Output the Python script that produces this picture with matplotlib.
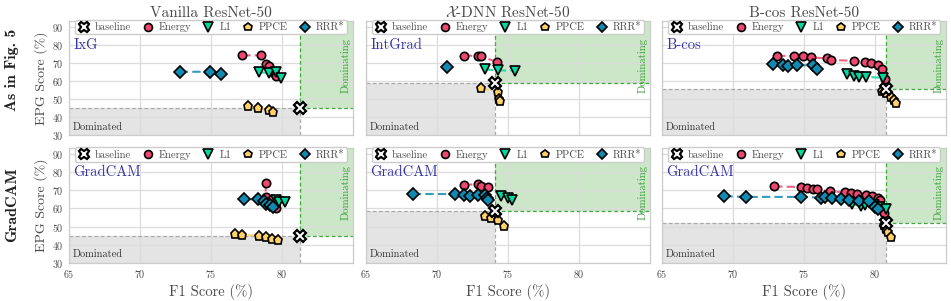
import matplotlib
matplotlib.use("Agg")
import matplotlib.pyplot as plt
from matplotlib.lines import Line2D
from matplotlib.patches import Rectangle

plt.rcParams["font.family"] = ["cmr10", "DejaVu Serif"]
plt.rcParams["mathtext.fontset"] = "cm"
plt.rcParams["axes.unicode_minus"] = False
plt.rcParams["axes.formatter.use_mathtext"] = True

# ---------------- data ----------------
column_titles = ["Vanilla ResNet-50", r"$\mathcal{X}$-DNN ResNet-50", "B-cos ResNet-50"]
row_titles = ["As in Fig. 5", "GradCAM"]
attr_row0 = ["IxG", "IntGrad", "B-cos"]
attr_row1 = ["GradCAM", "GradCAM", "GradCAM"]
method_names = ["Energy", "L1", "PPCE", "RRR*"]
x_ticks = [65, 70, 75, 80]
y_ticks = [30, 40, 50, 60, 70, 80, 90]

baseline_f1_row0 = [81.3, 74.1, 80.8]
baseline_epg_row0 = [45.0, 58.8, 55.5]
baseline_f1_row1 = [81.3, 74.1, 80.8]
baseline_epg_row1 = [45.0, 58.6, 52.2]

# Vanilla ResNet-50, IxG
van_ixg_energy_f1 = [77.2, 78.5, 78.9, 79.1, 79.2, 79.5, 79.6]
van_ixg_energy_epg = [74.3, 74.3, 69.5, 68.5, 65.5, 64.0, 63.0]
van_ixg_l1_f1 = [78.4, 79.1, 79.6, 79.9]
van_ixg_l1_epg = [65.0, 64.5, 65.0, 62.0]
van_ixg_ppce_f1 = [77.6, 78.3, 79.1, 79.4]
van_ixg_ppce_epg = [46.0, 45.0, 44.0, 43.0]
van_ixg_rrr_f1 = [72.8, 74.9, 75.7]
van_ixg_rrr_epg = [65.2, 65.2, 64.0]

# Vanilla ResNet-50, GradCAM
van_gc_energy_f1 = [78.85, 78.85, 79.3, 79.5, 79.6]
van_gc_energy_epg = [74.0, 66.5, 65.5, 62.0, 60.2]
van_gc_l1_f1 = [79.6, 79.8, 80.2]
van_gc_l1_epg = [64.5, 63.5, 63.5]
van_gc_ppce_f1 = [76.7, 77.2, 78.4, 78.9, 79.3, 79.7]
van_gc_ppce_epg = [46.0, 45.4, 44.9, 44.0, 43.3, 42.3]
van_gc_rrr_f1 = [77.3, 78.3, 78.7, 78.9, 79.15, 79.4]
van_gc_rrr_epg = [65.2, 65.0, 64.0, 62.6, 61.7, 61.0]

# X-DNN ResNet-50, IntGrad
xdnn_ig_energy_f1 = [71.9, 72.9, 73.1, 74.25]
xdnn_ig_energy_epg = [74.2, 74.0, 73.8, 70.5]
xdnn_ig_l1_f1 = [73.4, 74.3, 75.5]
xdnn_ig_l1_epg = [66.5, 66.0, 65.8]
xdnn_ig_ppce_f1 = [73.1, 74.3, 74.4, 74.45]
xdnn_ig_ppce_epg = [56.0, 54.0, 50.0, 49.0]
xdnn_ig_rrr_f1 = [70.7]
xdnn_ig_rrr_epg = [67.6]

# X-DNN ResNet-50, GradCAM
xdnn_gc_energy_f1 = [71.9, 72.9, 73.1, 73.6]
xdnn_gc_energy_epg = [73.2, 73.3, 72.4, 71.7]
xdnn_gc_l1_f1 = [74.5, 75.0, 75.3]
xdnn_gc_l1_epg = [67.0, 65.7, 64.5]
xdnn_gc_ppce_f1 = [73.4, 73.8, 74.3, 74.7]
xdnn_gc_ppce_epg = [55.7, 54.6, 53.5, 50.4]
xdnn_gc_rrr_f1 = [68.3, 71.3, 71.9, 72.3, 72.9, 73.4, 73.55, 73.6]
xdnn_gc_rrr_epg = [68.0, 68.0, 67.4, 67.0, 67.4, 67.2, 66.0, 64.5]

# B-cos ResNet-50, B-cos
bcos_bc_energy_f1 = [73.1, 74.3, 74.9, 75.5, 76.6, 76.9, 78.5, 79.3, 79.7, 80.2, 80.5, 80.7]
bcos_bc_energy_epg = [74.0, 74.0, 73.9, 73.2, 72.6, 71.7, 71.3, 70.6, 69.8, 68.9, 66.5, 61.0]
bcos_bc_l1_f1 = [78.0, 78.5, 78.9, 79.35, 80.55]
bcos_bc_l1_epg = [63.7, 62.9, 62.4, 62.4, 61.8]
bcos_bc_ppce_f1 = [80.5, 80.8, 81.1, 81.35, 81.5]
bcos_bc_ppce_epg = [54.6, 53.2, 51.3, 49.8, 48.0]
bcos_bc_rrr_f1 = [72.8, 73.5, 73.9, 74.5, 75.6, 75.9]
bcos_bc_rrr_epg = [69.5, 68.8, 68.3, 68.8, 68.8, 67.0]

# B-cos ResNet-50, GradCAM
bcos_gc_energy_f1 = [72.9, 74.8, 75.2, 75.6, 75.9, 76.8, 77.9, 78.3, 78.7, 79.4, 79.8, 80.2, 80.35, 80.6]
bcos_gc_energy_epg = [72.2, 71.9, 71.3, 71.0, 70.6, 69.5, 69.0, 68.5, 68.1, 67.4, 66.7, 65.8, 64.8, 57.5]
bcos_gc_l1_f1 = [78.4, 79.0, 79.3, 79.9, 80.3, 80.8]
bcos_gc_l1_epg = [62.2, 61.5, 61.7, 61.7, 61.0, 59.8]
bcos_gc_ppce_f1 = [80.6, 80.75, 80.95, 81.1]
bcos_gc_ppce_epg = [50.6, 48.7, 46.8, 44.4]
bcos_gc_rrr_f1 = [69.4, 70.9, 74.8, 76.2, 76.45, 77.0, 77.6, 78.2, 78.9, 79.6, 80.0, 80.2]
bcos_gc_rrr_epg = [66.8, 66.4, 66.4, 66.0, 66.3, 65.6, 65.2, 64.9, 63.9, 64.2, 61.0, 59.5]

# ---------------- styles ----------------
method_colors = ["#ef476f", "#06d6a0", "#ffd166", "#118ab2"]
method_markers = ["o", "v", "p", "D"]
method_ms = [6.0, 7.0, 6.5, 5.8]
XLIM = (65, 85)
YLIM = (30, 93.5)

panels = [
    [  # row 0
        [(van_ixg_energy_f1, van_ixg_energy_epg), (van_ixg_l1_f1, van_ixg_l1_epg),
         (van_ixg_ppce_f1, van_ixg_ppce_epg), (van_ixg_rrr_f1, van_ixg_rrr_epg)],
        [(xdnn_ig_energy_f1, xdnn_ig_energy_epg), (xdnn_ig_l1_f1, xdnn_ig_l1_epg),
         (xdnn_ig_ppce_f1, xdnn_ig_ppce_epg), (xdnn_ig_rrr_f1, xdnn_ig_rrr_epg)],
        [(bcos_bc_energy_f1, bcos_bc_energy_epg), (bcos_bc_l1_f1, bcos_bc_l1_epg),
         (bcos_bc_ppce_f1, bcos_bc_ppce_epg), (bcos_bc_rrr_f1, bcos_bc_rrr_epg)],
    ],
    [  # row 1
        [(van_gc_energy_f1, van_gc_energy_epg), (van_gc_l1_f1, van_gc_l1_epg),
         (van_gc_ppce_f1, van_gc_ppce_epg), (van_gc_rrr_f1, van_gc_rrr_epg)],
        [(xdnn_gc_energy_f1, xdnn_gc_energy_epg), (xdnn_gc_l1_f1, xdnn_gc_l1_epg),
         (xdnn_gc_ppce_f1, xdnn_gc_ppce_epg), (xdnn_gc_rrr_f1, xdnn_gc_rrr_epg)],
        [(bcos_gc_energy_f1, bcos_gc_energy_epg), (bcos_gc_l1_f1, bcos_gc_l1_epg),
         (bcos_gc_ppce_f1, bcos_gc_ppce_epg), (bcos_gc_rrr_f1, bcos_gc_rrr_epg)],
    ],
]
baselines = [list(zip(baseline_f1_row0, baseline_epg_row0)),
             list(zip(baseline_f1_row1, baseline_epg_row1))]
attr_names = [attr_row0, attr_row1]

W, H = 951, 301
fig = plt.figure(figsize=(W / 100, H / 100), dpi=100)

col_left = [69, 366, 662]
col_w = 284
row_top = [20.7, 148.0]
row_h = 114.6

text_grey = "#4a4a4a"

for r in range(2):
    for c in range(3):
        rect = [col_left[c] / W, 1 - (row_top[r] + row_h) / H, col_w / W, row_h / H]
        ax = fig.add_axes(rect)
        ax.set_xlim(*XLIM)
        ax.set_ylim(*YLIM)
        ax.set_xticks(x_ticks)
        ax.set_yticks(y_ticks)
        ax.set_axisbelow(True)
        ax.grid(True, color="#dcdcdc", lw=0.9)
        for s in ax.spines.values():
            s.set_color("#cccccc")
            s.set_linewidth(0.9)
        ax.tick_params(length=0, labelsize=7.2, colors="#4a4a4a", pad=4)
        if c > 0:
            ax.set_yticklabels([])
        if r == 0:
            ax.set_xticklabels([])
            ax.set_title(column_titles[c], fontsize=11, pad=3, color=text_grey)
        else:
            ax.set_xlabel("F1 Score (%)", fontsize=10.5, color=text_grey, labelpad=3)
        if c == 0:
            ax.set_ylabel("EPG Score (%)", fontsize=10, color=text_grey, labelpad=3)

        bx, by = baselines[r][c]
        # dominated region
        ax.add_patch(Rectangle((XLIM[0], YLIM[0]), bx - XLIM[0], by - YLIM[0],
                               facecolor="#e4e4e4", edgecolor="none", zorder=0.3))
        ax.plot([XLIM[0], bx], [by, by], color="#a8a8a8", lw=0.9, ls=(0, (3, 2)), zorder=1)
        ax.plot([bx, bx], [YLIM[0], by], color="#a8a8a8", lw=0.9, ls=(0, (3, 2)), zorder=1)
        # dominating region
        ax.add_patch(Rectangle((bx, by), XLIM[1] - bx, YLIM[1] - by,
                               facecolor="#cce6c8", edgecolor="none", zorder=0.3))
        ax.plot([bx, XLIM[1]], [by, by], color="#3cab3c", lw=0.9, ls=(0, (3, 2)), zorder=1)
        ax.plot([bx, bx], [by, YLIM[1]], color="#3cab3c", lw=0.9, ls=(0, (3, 2)), zorder=1)

        ax.text(0.012, 0.03, "Dominated", transform=ax.transAxes, fontsize=7.5,
                color="#333333", ha="left", va="bottom", zorder=2)
        ax.text(0.975, 0.85, "Dominating", transform=ax.transAxes, fontsize=7.8,
                color="#3a9a3a", ha="center", va="top", rotation=90, zorder=2)
        ax.text(0.015, 0.755, attr_names[r][c], transform=ax.transAxes, fontsize=10.5,
                color="#3434a8", ha="left", va="baseline", zorder=2)

        # method curves
        for m, (xs, ys) in enumerate(panels[r][c]):
            ax.plot(xs, ys, color=method_colors[m], lw=1.5, ls=(0, (4, 2)), alpha=0.85, zorder=3)
        for m, (xs, ys) in enumerate(panels[r][c]):
            ax.plot(xs, ys, ls="none", marker=method_markers[m], ms=method_ms[m],
                    mfc=method_colors[m], mec="black", mew=1.2, zorder=4 + m * 0.1)
        ax.plot([bx], [by], ls="none", marker="X", ms=8, mfc="white", mec="black",
                mew=1.6, zorder=6)

        handles = [Line2D([], [], ls="none", marker="X", ms=7.5, mfc="white", mec="black", mew=1.6)]
        for m in range(4):
            handles.append(Line2D([], [], ls="none", marker=method_markers[m], ms=method_ms[m] * 0.95,
                                  mfc=method_colors[m], mec="black", mew=1.2))
        leg = ax.legend(handles, ["baseline"] + method_names, loc="upper center",
                        bbox_to_anchor=(0.5, 1.005), borderaxespad=0.0, ncol=5,
                        fontsize=7.6, handletextpad=0.45, columnspacing=1.0,
                        handlelength=1.2, borderpad=0.2, frameon=True, fancybox=True,
                        framealpha=1.0, edgecolor="#cccccc")
        for t in leg.get_texts():
            t.set_color(text_grey)
        leg.set_zorder(10)

for r, (name, yc) in enumerate(zip(row_titles, [70, 205])):
    fig.text(12 / W, 1 - yc / H, name, rotation=90, ha="center", va="center",
             fontsize=11.5, family=["cmb10", "DejaVu Serif"], color="#222222")

fig.savefig("out.png", dpi=100)
